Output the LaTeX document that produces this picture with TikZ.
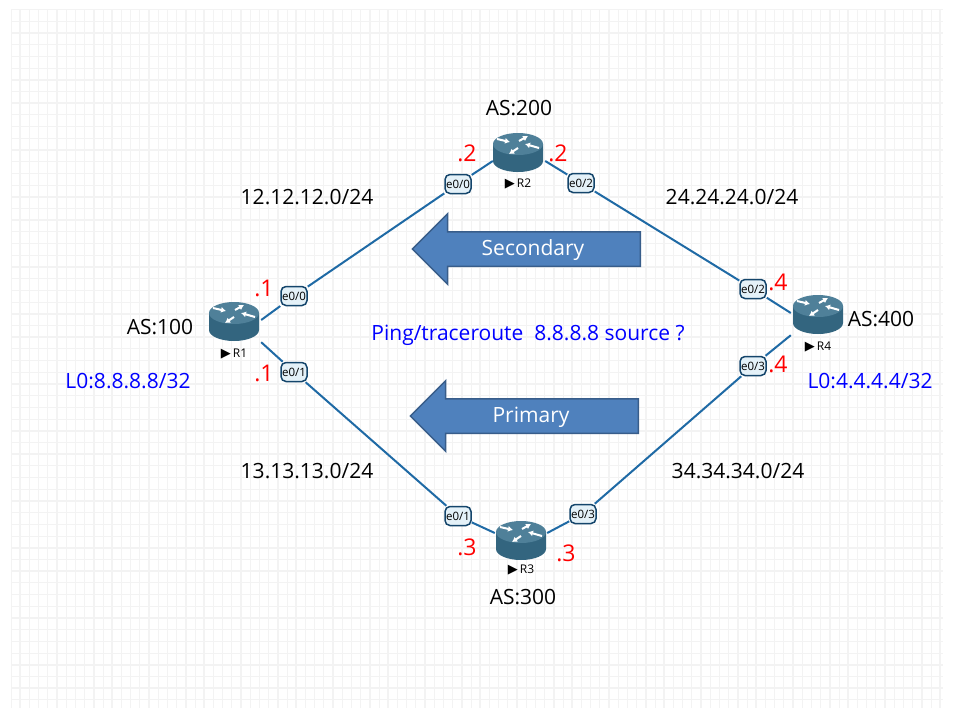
\documentclass[tikz,border=0pt]{standalone}
\usepackage{fontspec}
\setmainfont{Open Sans}
\newfontfamily\symfont{DejaVu Sans}
\usetikzlibrary{shapes.arrows,arrows.meta}
\definecolor{gridc}{HTML}{F3F3F3}
\definecolor{linkc}{HTML}{1F6AA5}
\definecolor{routertop}{HTML}{4F8099}
\definecolor{routerside}{HTML}{33657F}
\definecolor{ifc}{HTML}{E4F1F8}
\definecolor{arrowc}{HTML}{4F81BD}
\definecolor{arrowl}{HTML}{385D8A}
\newcommand{\rlabel}[1]{{\symfont\fontsize{13}{13}\selectfont ▶}\,#1}
\tikzset{
  pics/routericon/.style={code={
    \fill[routerside] (-25,-9) -- (-25,8) arc[start angle=180,end angle=0,x radius=25,y radius=11] -- (25,-9) -- cycle;
    \fill[routertop] (0,-9) ellipse[x radius=25,y radius=11];
    \foreach \xa/\ya/\xb/\yb in {-21/-14/-8/-11,1/-12/10/-17,21/-5/7/-9,0/-5/-9/1}
      \draw[white,line width=2pt,-{Latex[length=5pt,width=6pt]}] (\xa,\ya) -- (\xb,\yb);
  }},
  router/.style={minimum width=52,minimum height=44,inner sep=0},
  ifbox/.style={draw=linkc!65!black,fill=ifc,rounded corners=5,line width=1.5pt,minimum width=26,minimum height=19,inner sep=0,font=\fontsize{11.5}{11.5}\selectfont},
  link/.style={draw=linkc,line width=2pt},
  txt/.style={font=\fontsize{21}{24}\selectfont},
  bluetxt/.style={txt,text=blue},
  dot/.style={font=\fontsize{23}{23}\selectfont,text=red},
  rname/.style={font=\fontsize{12}{12}\selectfont},
  bigarrow/.style={shape=single arrow,draw=arrowl,fill=arrowc,line width=1.5pt,shape border rotate=180,
    single arrow head extend=18,single arrow tip angle=90,minimum height=228,inner sep=0,text height=33,text depth=0},
  arrowtxt/.style={text=white,font=\fontsize{21}{24}\selectfont},
}
\begin{document}
\begin{tikzpicture}[x=1pt,y=-1pt]
  \useasboundingbox (0,0) rectangle (960,720);
  \fill[white] (0,0) rectangle (960,720);
  % grid
  \foreach \i in {0,...,101}
    \draw[gridc,line width={mod(\i,2)==0 ? 0.8pt : 1.6pt}] ({11+9.2*\i},10) -- ({11+9.2*\i},708);
  \foreach \i in {0,...,59}
    \draw[gridc,line width={mod(\i,2)==0 ? 1.6pt : 0.8pt}] (11,{9.5+11.7*\i}) -- (943,{9.5+11.7*\i});

  \node[router] (nr1) at (235,320) {};
  \node[router] (nr2) at (519,161) {};
  \node[router] (nr3) at (521,533) {};
  \node[router] (nr4) at (817,313) {};
  \pic at (234,322) {routericon};
  \pic at (518,153) {routericon};
  \pic at (521,541) {routericon};
  \pic at (818,315) {routericon};

  \node[ifbox] (ia0) at (294,296) {e0/0};
  \node[ifbox] (ia1) at (294,372) {e0/1};
  \node[ifbox] (ib0) at (458,184) {e0/0};
  \node[ifbox] (ib2) at (581,183) {e0/2};
  \node[ifbox] (ic1) at (458,516) {e0/1};
  \node[ifbox] (ic3) at (583,514) {e0/3};
  \node[ifbox] (id2) at (753,289) {e0/2};
  \node[ifbox] (id3) at (753,366) {e0/3};
  \foreach \from/\to in {nr1.east/ia0,ia0/ib0,ib0/nr2.west,nr2.east/ib2,ib2/id2,id2/nr4.west,
      nr1.south east/ia1,ia1/ic1,ic1/nr3.west,nr3.east/ic3,ic3/id3,id3/nr4.south west}
    \draw[link] (\from) -- (\to);

  \node[bigarrow] (narrowa) at (535,249) {};
  \node[bigarrow] (narrowb) at (533,416) {};
  \node[arrowtxt] (ntexta) at (533,250) {Secondary};
  \node[arrowtxt] (ntextb) at (531,417) {Primary};

  \node[txt] (asa) at (160,327) {AS:100};
  \node[txt] (asb) at (519,108) {AS:200};
  \node[txt] (asc) at (523,597) {AS:300};
  \node[txt] (asd) at (881,319) {AS:400};
  \node[txt] (neta) at (307,197) {12.12.12.0/24};
  \node[txt] (netb) at (732,197) {24.24.24.0/24};
  \node[txt] (netc) at (307,471) {13.13.13.0/24};
  \node[txt] (netd) at (738,471) {34.34.34.0/24};
  \node[bluetxt] (loa) at (128,381) {L0:8.8.8.8/32};
  \node[bluetxt] (lod) at (870,381) {L0:4.4.4.4/32};
  \node[bluetxt] (nping) at (528,335) {Ping/traceroute\ \ 8.8.8.8 source ?};

  \node[dot] (da0) at (264,288) {.1};
  \node[dot] (da1) at (264,373) {.1};
  \node[dot] (db0) at (467,153) {.2};
  \node[dot] (db2) at (558,153) {.2};
  \node[dot] (dc1) at (467,547) {.3};
  \node[dot] (dc3) at (566,553) {.3};
  \node[dot] (dd2) at (778,282) {.4};
  \node[dot] (dd3) at (778,364) {.4};

  \node[rname] (la) at (234,354) {\rlabel{R1}};
  \node[rname] (lb) at (518,184) {\rlabel{R2}};
  \node[rname] (lc) at (521,570) {\rlabel{R3}};
  \node[rname] (ld) at (818,347) {\rlabel{R4}};
\end{tikzpicture}
\end{document}
